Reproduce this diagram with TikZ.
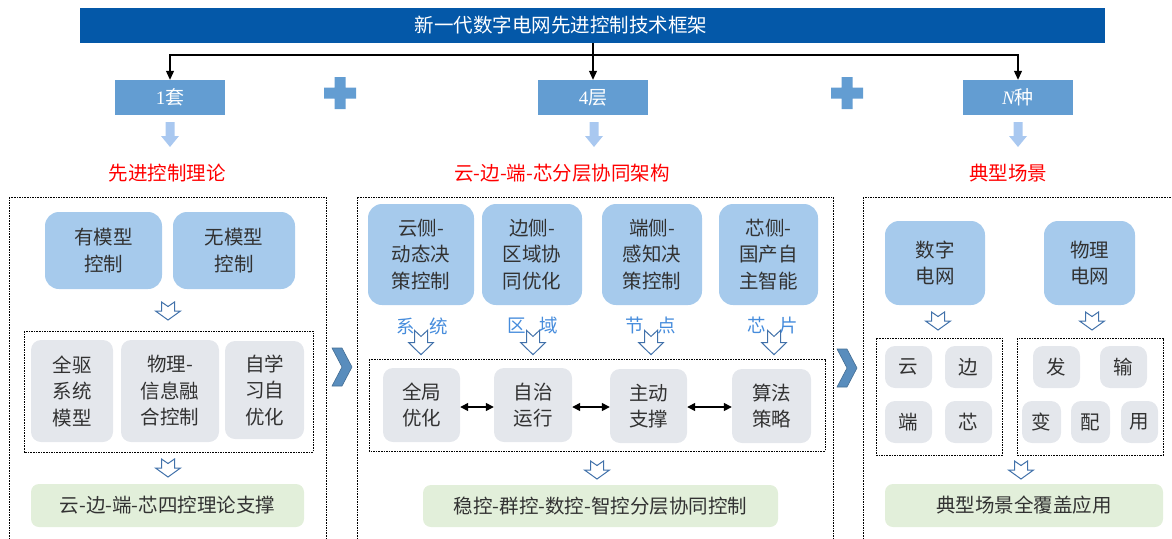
\documentclass[tikz,border=0pt]{standalone}
\usepackage{fontspec}
\setmainfont{Liberation Serif}
\newfontfamily\cjk{Noto Sans CJK SC}
\usetikzlibrary{arrows.meta}

\definecolor{barblue}{RGB}{4,88,168}
\definecolor{numblue}{RGB}{99,157,210}
\definecolor{lightarr}{RGB}{169,200,240}
\definecolor{boxblue}{RGB}{166,202,236}
\definecolor{boxgray}{RGB}{228,231,236}
\definecolor{boxgreen}{RGB}{226,239,218}
\definecolor{hollowblue}{RGB}{65,113,170}
\definecolor{labblue}{RGB}{70,140,220}
\definecolor{txtgray}{RGB}{50,50,50}

\newcommand\bxfont{\cjk\fontsize{19.5}{26.5}\selectfont}

\tikzset{
  bar/.style={fill=barblue, minimum width=1025pt, minimum height=35pt, inner sep=0pt},
  numbox/.style={fill=numblue, text=white, minimum width=110pt, minimum height=35pt, inner sep=0pt, font=\cjk\fontsize{19}{20}\selectfont},
  redtitle/.style={text=red, font=\cjk\fontsize{19.5}{22}\selectfont},
  bluebox/.style={fill=boxblue, rounded corners=14pt, align=center, inner sep=0pt, text=txtgray, font=\bxfont},
  graybox/.style={fill=boxgray, rounded corners=10pt, align=center, inner sep=0pt, text=txtgray, font=\bxfont},
  greenbox/.style={fill=boxgreen, rounded corners=8pt, inner sep=0pt, text=txtgray, font=\bxfont},
  dotbox/.style={draw=black, line width=1pt, dash pattern=on 1.6pt off 1pt},
  sidelabel/.style={text=labblue, font=\cjk\fontsize{18.5}{20}\selectfont},
  arr/.style={-{Triangle[length=9pt,width=8pt]}, line width=1.1pt},
  darr/.style={{Triangle[length=8pt,width=8pt]}-{Triangle[length=8pt,width=8pt]}, line width=1.4pt},
  fatarrow/.pic={\fill[lightarr] (-4.5,-12.5) -- (4.5,-12.5) -- (4.5,1.5) -- (9,1.5) -- (0,12.5) -- (-9,1.5) -- (-4.5,1.5) -- cycle;},
  hollow/.pic={\draw[hollowblue, fill=white, line width=1pt, line join=miter] (-6.5,-9) -- (0,-4.5) -- (6.5,-9) -- (6.5,0) -- (12.5,0) -- (0,9) -- (-12.5,0) -- (-6.5,0) -- cycle;},
  plus/.pic={\fill[numblue] (-5.5,-16) rectangle (5.5,16) (-16,-5.5) rectangle (16,5.5);},
  chevron/.pic={\fill[numblue!90!black, draw=numblue!70!black, line width=0.6pt] (-10,-19) -- (0,-19) -- (10,0) -- (0,19) -- (-10,19) -- (0,0) -- cycle;}
}

\begin{document}
\begin{tikzpicture}[x=1pt,y=-1pt]
\useasboundingbox (0,0) rectangle (1172,538);

% head
\node[bar] (top) at (592.5,25.5) {};
\node[text=white, font=\cjk\fontsize{19.5}{22}\selectfont] (toptxt) at (561,25.5) {新一代数字电网先进控制技术框架};
\node[numbox] (b1) at (170,97.5) {{\rmfamily 1}套};
\node[numbox] (b2) at (593,97.5) {{\rmfamily 4}层};
\node[numbox] (b3) at (1018,97.5) {{\rmfamily\itshape N}种};
\coordinate (hub) at (593,55);
\draw[arr] (top.south -| b2.north) -- (b2.north);
\draw[arr] (hub) -| (b1.north);
\draw[arr] (hub) -| (b3.north);
\pic at (340,93) {plus};
\pic at (847,93) {plus};

\pic at (170,134.5) {fatarrow};
\pic at (594,134.5) {fatarrow};
\pic at (1018,134.5) {fatarrow};
\node[redtitle] (t1) at (167,173) {先进控制理论};
\node[redtitle] (t2) at (562,173) {云-边-端-芯分层协同架构};
\node[redtitle] (t3) at (1008,173) {典型场景};

% left column
\draw[dotbox] (9,197) rectangle (326,545);
\node[bluebox, minimum width=117pt, minimum height=77pt] (m1) at (103.5,250.5) {有模型\\控制};
\node[bluebox, minimum width=122pt, minimum height=77pt] (m2) at (234,250.5) {无模型\\控制};
\pic at (168,311) {hollow};
\draw[dotbox] (24,331) rectangle (313,452);
\node[graybox, minimum width=82pt, minimum height=102pt] (g1) at (72,391) {全驱\\系统\\模型};
\node[graybox, minimum width=98pt, minimum height=102pt] (g2) at (170,391) {物理-\\信息融\\合控制};
\node[graybox, minimum width=79pt, minimum height=98pt] (g3) at (264.5,390) {自学\\习自\\优化};
\pic at (168,468) {hollow};
\node[greenbox, minimum width=273pt, minimum height=43pt] (s1) at (167.5,505.5) {云-边-端-芯四控理论支撑};

\pic at (342,367) {chevron};

% middle column
\draw[dotbox] (357,197) rectangle (833,545);
\node[bluebox, minimum width=106pt, minimum height=101pt] (c1) at (421,254.5) {云侧-\\动态决\\策控制};
\node[bluebox, minimum width=100pt, minimum height=101pt] (c2) at (532,254.5) {边侧-\\区域协\\同优化};
\node[bluebox, minimum width=100pt, minimum height=101pt] (c3) at (652,254.5) {端侧-\\感知决\\策控制};
\node[bluebox, minimum width=99pt, minimum height=101pt] (c4) at (768.5,254.5) {芯侧-\\国产自\\主智能};
\node[sidelabel] (l1) at (422,326) {系\hspace{15pt}统};
\node[sidelabel] (l2) at (533,325) {区\hspace{14pt}域};
\node[sidelabel] (l3) at (651,325) {节\hspace{14pt}点};
\node[sidelabel] (l4) at (773,325) {芯\hspace{14pt}片};
\foreach \ax in {421,533,651,774}
  \pic[yscale=1.35] at (\ax,342.5) {hollow};
\draw[dotbox] (369,359) rectangle (825,451);
\node[graybox, minimum width=77pt, minimum height=74pt] (n1) at (421.5,405) {全局\\优化};
\node[graybox, minimum width=78pt, minimum height=74pt] (n2) at (533,405) {自治\\运行};
\node[graybox, minimum width=77pt, minimum height=74pt] (n3) at (648.5,406) {主动\\支撑};
\node[graybox, minimum width=79pt, minimum height=74pt] (n4) at (771.5,406) {算法\\策略};
\draw[darr] (n1.east |- 0,407) -- (n2.west |- 0,407);
\draw[darr] (n2.east |- 0,407) -- (n3.west |- 0,407);
\draw[darr] (n3.east |- 0,407) -- (n4.west |- 0,407);
\pic at (597,470) {hollow};
\node[greenbox, minimum width=355pt, minimum height=42pt] (s2) at (600.5,506) {稳控-群控-数控-智控分层协同控制};

\pic at (847,368) {chevron};

% right column
\draw[dotbox] (863,197) rectangle (1185,545);
\node[bluebox, minimum width=100pt, minimum height=84pt] (d1) at (935,263) {数字\\电网};
\node[bluebox, minimum width=91pt, minimum height=84pt] (d2) at (1089.5,263) {物理\\电网};
\pic at (938,321) {hollow};
\pic at (1092,321) {hollow};
\draw[dotbox] (876,338) rectangle (1002,455);
\draw[dotbox] (1017,338) rectangle (1163,455);
\node[graybox, minimum width=47pt, minimum height=42pt] (e1) at (908.5,367) {云};
\node[graybox, minimum width=47pt, minimum height=42pt] (e2) at (968.5,367) {边};
\node[graybox, minimum width=47pt, minimum height=42pt] (e3) at (908.5,422) {端};
\node[graybox, minimum width=47pt, minimum height=42pt] (e4) at (968.5,422) {芯};
\node[graybox, minimum width=47pt, minimum height=42pt] (p1) at (1056.5,367) {发};
\node[graybox, minimum width=47pt, minimum height=42pt] (p2) at (1123.5,367) {输};
\node[graybox, minimum width=39pt, minimum height=42pt] (p3) at (1041.5,422) {变};
\node[graybox, minimum width=39pt, minimum height=42pt] (p4) at (1090.5,422) {配};
\node[graybox, minimum width=37pt, minimum height=42pt] (p5) at (1139.5,422) {用};
\pic at (1021,470) {hollow};
\node[greenbox, minimum width=278pt, minimum height=43pt] (s3) at (1024,505.5) {典型场景全覆盖应用};
\end{tikzpicture}
\end{document}
